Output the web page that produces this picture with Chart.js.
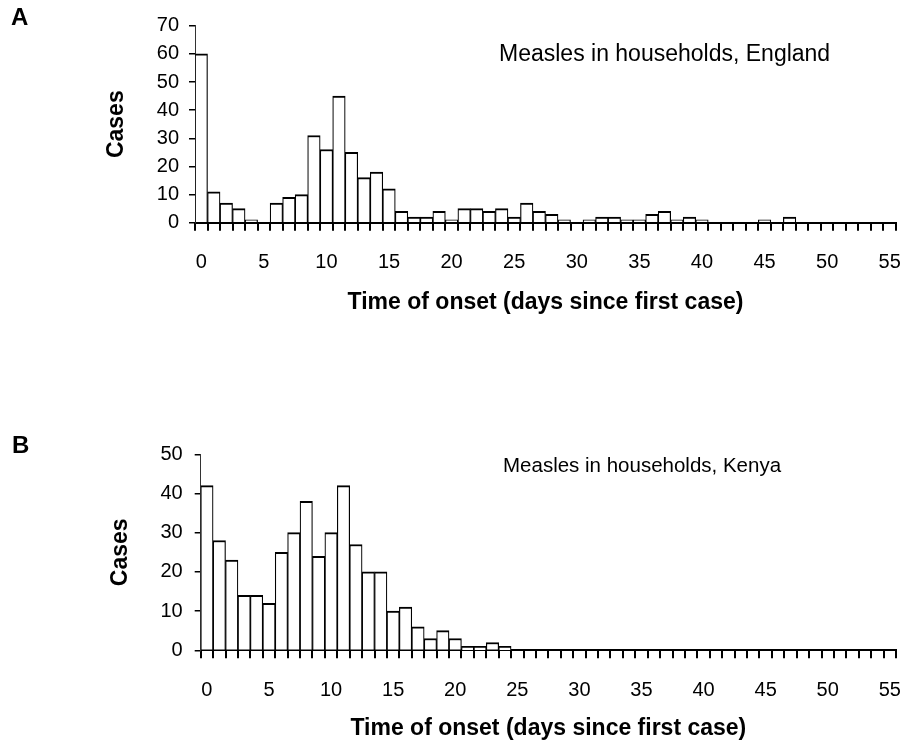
<!DOCTYPE html>
<html lang="en">
<head>
<meta charset="UTF-8">
<title>Measles in households</title>
<script src="https://cdn.jsdelivr.net/npm/chart.js@4.4.1/dist/chart.umd.min.js"></script>
<style>
  body { margin: 0; background: #fff; }
  canvas { position: absolute; left: 0; }
  #chartA { top: 0; }
  #chartB { top: 330px; }
</style>
</head>
<body>
<canvas id="chartA" width="901" height="330"></canvas>
<canvas id="chartB" width="901" height="412"></canvas>
<script>
// days since first case (x categories)
const days = [];
for (let d = 0; d <= 55; d++) days.push(String(d));

// cases per day
const englandCases = [60, 11, 7, 5, 1, 0, 7, 9, 10, 31, 26, 45, 25, 16, 18, 12,
  4, 2, 2, 4, 1, 5, 5, 4, 5, 2, 7, 4, 3, 1,
  0, 1, 2, 2, 1, 1, 3, 4, 1, 2, 1,
  0, 0, 0, 0, 1, 0, 2, 0, 0, 0, 0, 0, 0, 0, 0];
const kenyaCases = [42, 28, 23, 14, 14, 12, 25, 30, 38, 24, 30, 42, 27, 20, 20, 10,
  11, 6, 3, 5, 3, 1, 1, 2, 1,
  0, 0, 0, 0, 0, 0, 0, 0, 0, 0, 0, 0, 0, 0, 0, 0, 0, 0, 0, 0, 0, 0, 0, 0, 0, 0, 0, 0, 0, 0, 0];

const FONT = '"Liberation Sans", Arial, Helvetica, sans-serif';

// panel letter + caption inside the plot
const panelText = {
  id: 'panelText',
  afterDraw(chart, args, opts) {
    const ctx = chart.ctx;
    ctx.save();
    ctx.fillStyle = '#000';
    ctx.textBaseline = 'middle';
    ctx.font = 'bold 24px ' + FONT;
    ctx.fillText(opts.letter, opts.letterX, opts.letterY);
    ctx.font = opts.captionSize + 'px ' + FONT;
    ctx.fillText(opts.caption, opts.captionX, opts.captionY);
    ctx.restore();
  }
};

function makeChart(id, data, o) {
  const canvas = document.getElementById(id);
  return new Chart(canvas, {
    type: 'bar',
    data: {
      labels: days,
      datasets: [{
        data: data,
        backgroundColor: '#fff',
        borderColor: '#000',
        borderWidth: { top: 2, left: 1.2, right: 1.2, bottom: 0 },
        barPercentage: 1,
        categoryPercentage: 1
      }]
    },
    options: {
      responsive: false,
      animation: false,
      devicePixelRatio: 1,
      layout: { padding: { top: o.top, right: 5, left: 0, bottom: 0 } },
      plugins: {
        legend: { display: false },
        tooltip: { enabled: false },
        panelText: o.text
      },
      scales: {
        x: {
          grid: { offset: true, drawOnChartArea: false, drawTicks: true, tickLength: 8, color: '#000', lineWidth: 2 },
          border: { display: true, color: '#000', width: 2 },
          ticks: {
            autoSkip: false, maxRotation: 0, color: '#000', padding: 20,
            font: { family: FONT, size: 20 },
            callback: (v, i) => (i % 5 === 0 ? days[i] : '')
          },
          title: {
            display: true, text: 'Time of onset (days since first case)', color: '#000',
            font: { family: FONT, size: 23, weight: 'bold' },
            padding: { top: 0, bottom: o.xTitlePad }
          },
          afterFit: (s) => {
            s.height = o.xHeight;
            s.paddingLeft = 0;
            s.paddingRight = 0;
          }
        },
        y: {
          min: 0, max: o.yMax,
          grid: { drawOnChartArea: false, drawTicks: true, tickLength: 6, color: '#000', lineWidth: 1.5 },
          border: { display: true, color: '#333', width: 1 },
          ticks: { stepSize: 10, color: '#000', padding: o.yPad, font: { family: FONT, size: 20 } },
          title: {
            display: true, text: 'Cases', color: '#000',
            font: { family: FONT, size: 23, weight: 'bold' },
            padding: { top: o.yTitlePad, bottom: 0 }
          },
          afterFit: (s) => { s.width = o.yWidth; }
        }
      }
    },
    plugins: [panelText]
  });
}

makeChart('chartA', englandCases, {
  top: 25.7, yMax: 70, xHeight: 107.3, xTitlePad: 14, yWidth: 195, yPad: 10, yTitlePad: 103,
  text: { letter: 'A', letterX: 11, letterY: 18, caption: 'Measles in households, England', captionSize: 23, captionX: 499, captionY: 55 }
});

makeChart('chartB', kenyaCases, {
  top: 124.3, yMax: 50, xHeight: 91.7, xTitlePad: 0, yWidth: 200.7, yPad: 12, yTitlePad: 107,
  text: { letter: 'B', letterX: 12, letterY: 116, caption: 'Measles in households, Kenya', captionSize: 20.5, captionX: 503, captionY: 136 }
});
</script>
</body>
</html>
